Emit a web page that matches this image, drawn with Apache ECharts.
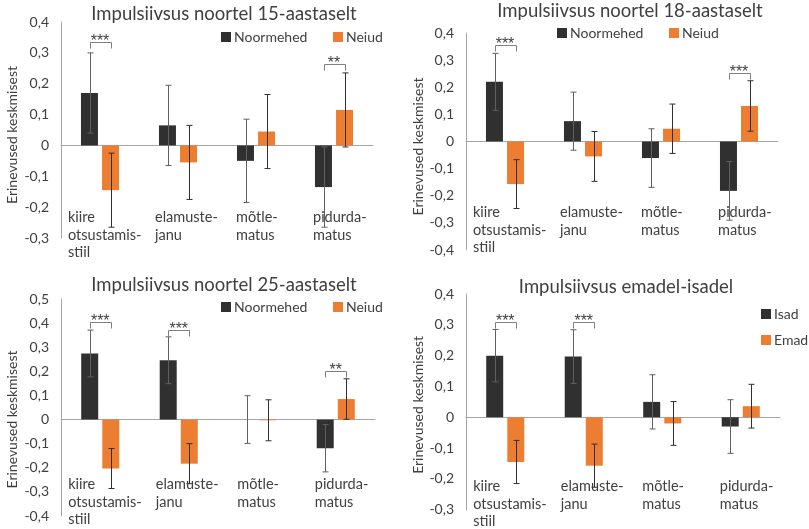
<!DOCTYPE html>
<html><head><meta charset="utf-8">
<script src="https://cdn.jsdelivr.net/npm/echarts@6/dist/echarts.min.js"></script>
<style>html,body{margin:0;padding:0;background:#fff}#c{width:809px;height:529px}</style>
</head><body><div id="c"></div>
<script>
// ---------- data ----------
const categories = ['kiire\notsustamis-\nstiil', 'elamuste-\njanu', 'mõtle-\nmatus', 'pidurda-\nmatus'];

const titles = ['Impulsiivsus noortel 15-aastaselt', 'Impulsiivsus noortel 18-aastaselt',
                'Impulsiivsus noortel 25-aastaselt', 'Impulsiivsus emadel-isadel'];
const yAxisTitle = 'Erinevused keskmisest';

const namesYouth = ['Noormehed', 'Neiud'];
const namesParents = ['Isad', 'Emad'];

// 15-year-olds
const boys15 = [0.17, 0.065, -0.05, -0.135];
const boys15Err = [0.13, 0.13, 0.135, 0.13];
const girls15 = [-0.145, -0.055, 0.045, 0.115];
const girls15Err = [0.12, 0.12, 0.12, 0.12];
const sig15 = [[0, 0.335, '***'], [3, 0.265, '**']];
const yTicks15 = [-0.3, -0.2, -0.1, 0, 0.1, 0.2, 0.3, 0.4];

// 18-year-olds
const boys18 = [0.22, 0.075, -0.061, -0.182];
const boys18Err = [0.105, 0.107, 0.108, 0.108];
const girls18 = [-0.157, -0.055, 0.047, 0.131];
const girls18Err = [0.09, 0.092, 0.091, 0.093];
const sig18 = [[0, 0.357, '***'], [3, 0.252, '***']];
const yTicks18 = [-0.4, -0.3, -0.2, -0.1, 0, 0.1, 0.2, 0.3, 0.4];

// 25-year-olds
const boys25 = [0.274, 0.246, 0.0, -0.119];
const boys25Err = [0.097, 0.097, 0.099, 0.098];
const girls25 = [-0.203, -0.183, -0.003, 0.085];
const girls25Err = [0.083, 0.083, 0.085, 0.084];
const sig25 = [[0, 0.403, '***'], [1, 0.371, '***'], [3, 0.201, '**']];
const yTicks25 = [-0.4, -0.3, -0.2, -0.1, 0, 0.1, 0.2, 0.3, 0.4, 0.5];

// parents
const dads = [0.2, 0.197, 0.05, -0.03];
const dadsErr = [0.085, 0.087, 0.088, 0.087];
const moms = [-0.145, -0.157, -0.02, 0.036];
const momsErr = [0.07, 0.07, 0.071, 0.071];
const sigPar = [[0, 0.309, '***'], [1, 0.309, '***']];
const yTicksPar = [-0.3, -0.2, -0.1, 0, 0.1, 0.2, 0.3, 0.4];

// ---------- styling ----------
const FONT = 'Lato';
const TXT = '#404040';
const DARK = '#303030';
const ORANGE = '#ED7D31';
const AXIS = '#a6a6a6';
const BAR_W = 17;
const BAR_OFF = 10.5;

const panels = [
  {grid: {left: 61, top: 22, width: 312, height: 216}, title: {left: 224, top: 5},
   names: namesYouth, a: boys15, aErr: boys15Err, b: girls15, bErr: girls15Err, sig: sig15, ticks: yTicks15,
   labelMargin: -29, yNameGap: 42, yNamePad: 10,
   legends: [{left: 221, top: 30}, {left: 333, top: 30}]},
  {grid: {left: 466, top: 33, width: 312, height: 217}, title: {left: 630, top: 2},
   names: namesYouth, a: boys18, aErr: boys18Err, b: girls18, bErr: girls18Err, sig: sig18, ticks: yTicks18,
   labelMargin: -46, yNameGap: 40, yNamePad: 10,
   legends: [{left: 557, top: 26}, {left: 669, top: 26}]},
  {grid: {left: 61, top: 299, width: 314, height: 217}, title: {left: 224, top: 276},
   names: namesYouth, a: boys25, aErr: boys25Err, b: girls25, bErr: girls25Err, sig: sig25, ticks: yTicks25,
   labelMargin: -40, yNameGap: 42, yNamePad: 24,
   legends: [{left: 221, top: 300}, {left: 333, top: 300}]},
  {grid: {left: 466, top: 294, width: 314, height: 216}, title: {left: 626, top: 278},
   names: namesParents, a: dads, aErr: dadsErr, b: moms, bErr: momsErr, sig: sigPar, ticks: yTicksPar,
   labelMargin: -32, yNameGap: 40, yNamePad: 6,
   legends: [{left: 761, top: 307}, {left: 761, top: 333}]}
];

const labelWidths = [64, 46, 40, 42];
const rich = {};
labelWidths.forEach((w, i) => {
  rich['c' + i] = {width: w, align: 'left', fontSize: 14.5, lineHeight: 17.5, color: TXT, fontFamily: FONT};
});

function fmtTick(v) {
  const r = Math.round(v * 10) / 10;
  if (r === 0) return '0';
  return r.toFixed(1).replace('.', ',');
}

function errRender(sign, color) {
  return function (params, api) {
    const i = api.value(0), v = api.value(1), e = api.value(2);
    const c = api.coord([i, v]);
    const x = Math.round(c[0] + sign * BAR_OFF) + 0.5;
    const yt = api.coord([i, v + e])[1];
    const yb = api.coord([i, v - e])[1];
    const style = {stroke: color, lineWidth: 1};
    return {type: 'group', children: [
      {type: 'line', shape: {x1: x, y1: yt, x2: x, y2: yb}, style},
      {type: 'line', shape: {x1: x - 3, y1: yt, x2: x + 3, y2: yt}, style},
      {type: 'line', shape: {x1: x - 3, y1: yb, x2: x + 3, y2: yb}, style}
    ]};
  };
}

function sigRender(sigArr) {
  return function (params, api) {
    const i = api.value(0), lvl = api.value(1);
    const c = api.coord([i, lvl]);
    const x1 = Math.round(c[0] - BAR_OFF) + 0.5, x2 = Math.round(c[0] + BAR_OFF) + 0.5;
    const y = Math.round(c[1]) + 0.5;
    return {type: 'group', children: [
      {type: 'polyline', shape: {points: [[x1, y + 6], [x1, y], [x2, y], [x2, y + 6]]},
       style: {stroke: '#7f7f7f', fill: null, lineWidth: 1}},
      {type: 'text', x: c[0], y: y - 1,
       style: {text: sigArr[params.dataIndex][2], fill: '#404040', font: '16px "Liberation Sans"',
               textAlign: 'center', textVerticalAlign: 'middle'}}
    ]};
  };
}

const option = {
  animation: false,
  backgroundColor: '#ffffff',
  title: [], grid: [], xAxis: [], yAxis: [], series: [], legend: []
};

panels.forEach((p, g) => {
  option.title.push({text: titles[g], left: p.title.left, top: p.title.top, textAlign: 'center', padding: 0,
    textStyle: {fontFamily: FONT, fontSize: 18.5, fontWeight: 'normal', color: TXT}});
  option.grid.push(p.grid);
  option.xAxis.push({type: 'category', gridIndex: g, data: categories, position: 'bottom',
    axisLine: {show: true, onZero: true, lineStyle: {color: AXIS, width: 1}},
    axisTick: {show: false}, axisLabel: {show: false}, splitLine: {show: false}});
  option.xAxis.push({type: 'category', gridIndex: g, data: categories, position: 'bottom',
    axisLine: {show: false, onZero: false}, axisTick: {show: false}, splitLine: {show: false},
    axisLabel: {show: true, margin: p.labelMargin, interval: 0,
      formatter: (val, idx) => val.split('\n').map(l => '{c' + idx + '|' + l + '}').join('\n'),
      rich: rich}});
  const tk = p.ticks;
  option.yAxis.push({type: 'value', gridIndex: g, min: tk[0], max: tk[tk.length - 1], interval: 0.1,
    name: yAxisTitle, nameLocation: 'middle', nameGap: p.yNameGap,
    nameTextStyle: {fontFamily: FONT, fontSize: 14, color: TXT, padding: [0, p.yNamePad, 0, 0]},
    axisLine: {show: true, lineStyle: {color: AXIS, width: 1}}, axisTick: {show: false},
    splitLine: {show: false},
    axisLabel: {formatter: fmtTick, fontFamily: FONT, fontSize: 14, color: TXT, margin: 12}});
  const xi = g * 2;
  option.series.push({type: 'bar', name: p.names[0], xAxisIndex: xi, yAxisIndex: g, data: p.a,
    barWidth: BAR_W, barGap: '24%', itemStyle: {color: DARK}});
  option.series.push({type: 'bar', name: p.names[1], xAxisIndex: xi, yAxisIndex: g, data: p.b,
    barWidth: BAR_W, barGap: '24%', itemStyle: {color: ORANGE}});
  option.series.push({type: 'custom', name: 'err-a-' + g, xAxisIndex: xi, yAxisIndex: g, z: 5,
    data: p.a.map((v, i) => [i, v, p.aErr[i]]), renderItem: errRender(-1, '#606060')});
  option.series.push({type: 'custom', name: 'err-b-' + g, xAxisIndex: xi, yAxisIndex: g, z: 5,
    data: p.b.map((v, i) => [i, v, p.bErr[i]]), renderItem: errRender(1, '#303030')});
  option.series.push({type: 'custom', name: 'sig-' + g, xAxisIndex: xi, yAxisIndex: g, z: 5,
    data: p.sig.map(s => [s[0], s[1]]), renderItem: sigRender(p.sig)});
  p.legends.forEach((lg, k) => {
    option.legend.push({data: [p.names[k]], left: lg.left, top: lg.top, icon: 'rect', padding: 0,
      itemWidth: 10, itemHeight: 10, itemGap: 0, selectedMode: false,
      textStyle: {fontFamily: FONT, fontSize: 14, color: TXT, padding: [0, 0, 0, -2]}});
  });
});

const chart = echarts.init(document.getElementById('c'), null, {renderer: 'canvas'});
chart.setOption(option);
</script></body></html>
